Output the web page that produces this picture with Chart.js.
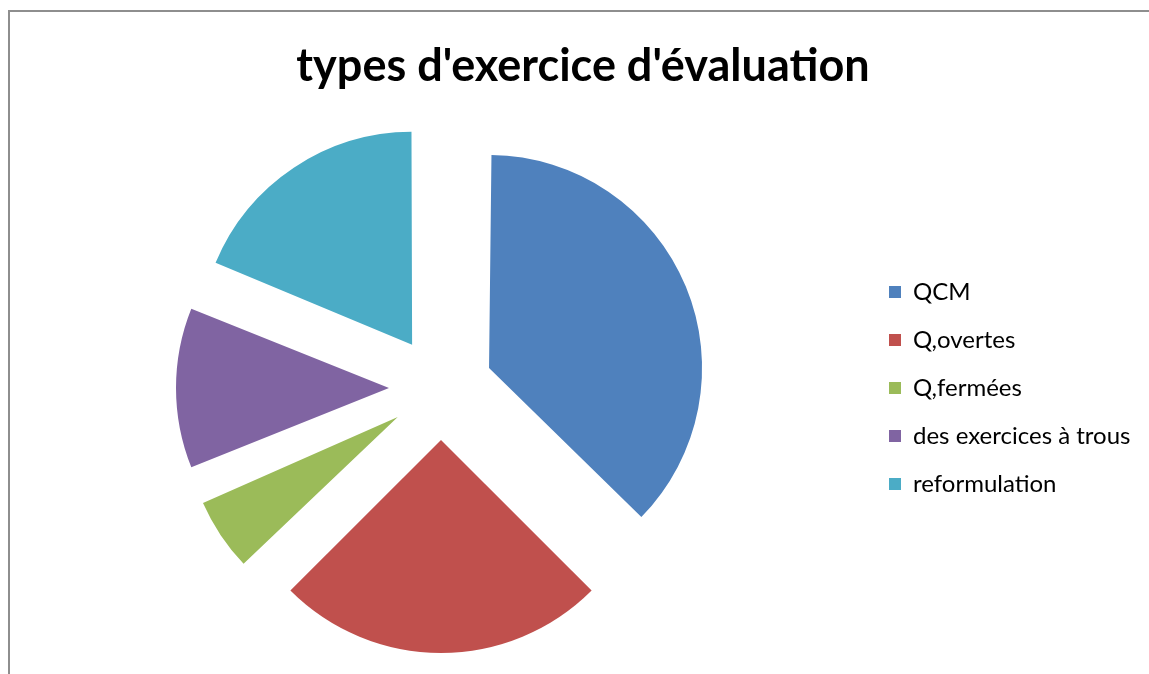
<!DOCTYPE html>
<html>
<head>
<meta charset="utf-8">
<title>types d'exercice d'évaluation</title>
<script src="https://cdn.jsdelivr.net/npm/chart.js@4"></script>
<style>
  html, body { margin: 0; padding: 0; background: #fff; overflow: hidden; }
  #frame {
    position: absolute; left: 8px; top: 10px; width: 1141px; height: 664px;
    border-left: 2px solid #8e8e8e; border-top: 2px solid #8e8e8e;
  }
  #chart { position: absolute; left: 10px; top: 12px; }
</style>
</head>
<body>
<div id="frame"></div>
<canvas id="chart" width="1139" height="662"></canvas>
<script>
// data
const chartTitle = "types d'exercice d'évaluation";
const categories = ['QCM', 'Q,overtes', 'Q,fermées', 'des exercices à trous', 'reformulation'];
const counts = [6, 4, 1, 2, 3];
const sliceColors = ['#4F81BD', '#C0504D', '#9BBB59', '#8064A2', '#4BACC6'];

// every slice is pulled out ~52px; Chart.js moves an arc by offset / 4
const explode = 52;
const pieRadius = 213;

// Chart.js also grows an exploded arc by (offset/4) * (1 - sin(angle)),
// take that back off so every slice keeps the same radius
const evenRadius = {
    id: 'evenRadius',
    beforeDatasetsDraw(chart) {
        chart.getDatasetMeta(0).data.forEach(arc => {
            const fix = 1 - Math.sin(Math.min(Math.PI, arc.circumference));
            arc.outerRadius = pieRadius - explode * fix;
        });
    }
};

// keep the legend column a fixed width so the pie stays where it should
const legendWidth = 284;
const fixedLegend = {
    id: 'fixedLegend',
    beforeUpdate(chart) {
        const lg = chart.legend;
        if (lg && !lg._fixed) {
            const fit = lg.fit;
            lg.fit = function() {
                fit.call(this);
                this.width = legendWidth;
            };
            lg._fixed = true;
        }
    }
};

const ctx = document.getElementById('chart').getContext('2d');
const chart = new Chart(ctx, {
    type: 'pie',
    data: {
        labels: categories,
        datasets: [{
            data: counts,
            backgroundColor: sliceColors,
            borderWidth: 0,
            offset: explode * 4,
            radius: pieRadius
        }]
    },
    options: {
        responsive: false,
        animation: false,
        events: [],
        layout: { padding: { left: 7, right: 0, top: 0, bottom: 0 } },
        plugins: {
            title: {
                display: true,
                text: chartTitle,
                color: '#000',
                font: { family: 'Lato', size: 45, weight: 'bold', lineHeight: 1.2 },
                padding: { top: 27, bottom: 9 }
            },
            legend: {
                position: 'right',
                fullSize: false,
                labels: {
                    color: '#000',
                    boxWidth: 12,
                    boxHeight: 12,
                    padding: 24,
                    font: { family: 'Lato', size: 24 }
                }
            },
            tooltip: { enabled: false }
        }
    },
    plugins: [fixedLegend, evenRadius]
});
</script>
</body>
</html>
